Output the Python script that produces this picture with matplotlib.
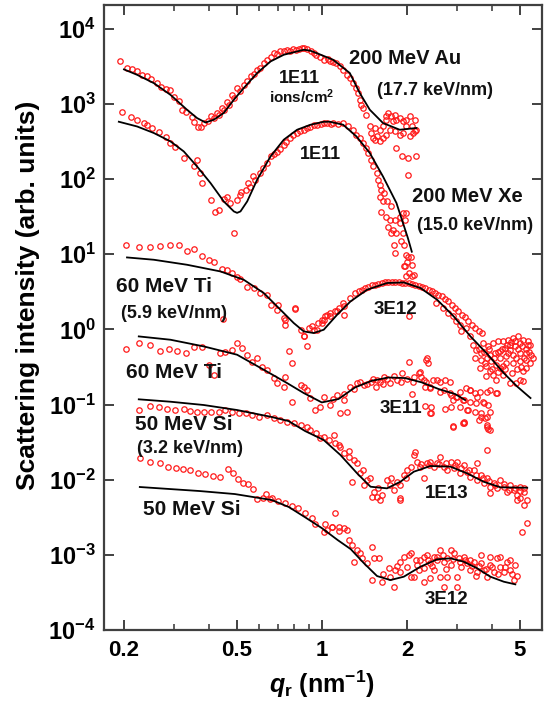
import numpy as np
import matplotlib
matplotlib.use("Agg")
import matplotlib.pyplot as plt
from matplotlib.ticker import FixedLocator, FixedFormatter, NullLocator, NullFormatter

plt.rcParams['font.family'] = ['Liberation Sans', 'DejaVu Sans']
plt.rcParams['font.weight'] = 'bold'
plt.rcParams['mathtext.fontset'] = 'custom'
plt.rcParams['mathtext.rm'] = 'Liberation Sans:bold'
plt.rcParams['mathtext.bf'] = 'Liberation Sans:bold'
plt.rcParams['mathtext.it'] = 'Liberation Sans:italic:bold'
plt.rcParams['mathtext.sf'] = 'Liberation Sans:bold'

# ---------------- data: measured points (q [nm^-1], intensity) ----------------
au_pts = [(0.194,3670),(0.205,3000),(0.213,2950),(0.222,2700),(0.231,2440),(0.241,2320),(0.250,2150),(0.261,1910),(0.270,1700),(0.281,1560),
(0.292,1540),(0.300,1250),(0.312,1100),(0.320,830),(0.331,785),(0.347,675),(0.353,577),(0.365,500),(0.373,495),(0.383,560),
(0.395,600),(0.405,680),(0.415,640),(0.425,760),(0.435,720),(0.443,887),(0.452,820),(0.461,1067),(0.470,980),(0.481,1322),
(0.490,1200),(0.501,1638),(0.515,1500),(0.530,1794),(0.545,2000),(0.561,2317),(0.575,2500),(0.589,2847),(0.605,3000),(0.624,3525),
(0.640,3800),(0.660,4273),(0.677,4790),(0.695,4600),(0.713,4990),(0.733,5100),(0.754,5150),(0.770,5000),(0.790,5370),(0.810,5200),
(0.830,5400),(0.850,5600),(0.864,5540),(0.885,5300),(0.913,4990),(0.935,4800),(0.957,4500),(0.985,4200),(1.02,3870),(1.05,3900),
(1.07,3700),(1.10,3600),(1.127,3497),(1.158,3150),(1.19,2848),(1.223,2443),(1.256,2208),(1.29,1894),(1.326,1626),(1.343,1395),
(1.362,1136),(1.38,975),(1.40,881),(1.438,718),(1.478,501),(1.498,410),(1.518,351),(1.539,477),(1.539,334),(1.561,369),
(1.602,453),(1.602,317),(1.646,501),(1.646,351),(1.69,615),(1.69,389),(1.69,681),(1.71,755),(1.74,453),(1.76,681),
(1.787,584),(1.81,718),(1.81,430),(1.836,615),(1.836,259),(1.886,648),(1.886,389),(1.913,200),(1.94,584),(1.94,410),
(1.99,615),(1.99,501),(2.015,190),(2.015,114),(2.045,681),(2.045,369),(2.08,501),(2.10,410),(2.13,615),(2.13,430),
(2.16,453),(2.161,200)]

xe_pts = [(0.197,792),(0.211,679),(0.2225,614),(0.235,555),(0.2414,527),(0.2514,476),(0.2655,429),(0.2804,368),(0.292,300),(0.304,271),
(0.3254,190),(0.353,147),(0.3726,120),(0.3625,180),(0.3776,88),(0.4044,52.8),(0.421,36.9),(0.4325,38.9),(0.4628,58.5),(0.4889,19.0),
(0.5022,52.8),(0.5161,61.6),(0.5376,71.8),(0.5598,79.4),(0.5831,97.5),(0.6072,120),(0.6407,163),(0.6641,200),(0.695,232),(0.734,285),
(0.775,350),(0.818,408),(0.864,452),(0.912,500),(0.962,527),(1.016,555),(0.45,55),(0.475,48),(0.52,68),(0.55,88),
(0.57,110),(0.62,140),(0.68,215),(0.71,255),(0.75,310),(0.79,380),(0.84,430),(0.89,480),(0.94,520),(0.99,545),
(1.04,560),(1.08,545),(1.10,560),(1.14,540),(1.19,555),(1.239,501),(1.29,453),(1.326,389),(1.362,351),(1.40,300),
(1.438,259),(1.457,222),(1.498,180),(1.518,147),(1.561,120),(1.58,98),(1.602,84),(1.624,72),(1.602,58.5),(1.646,50.4),
(1.624,37),(1.69,31.7),(1.74,28.7),(1.71,23.3),(1.787,21.2),(1.836,19),(1.886,26),(1.94,35.6),(1.886,31.7),(1.81,28.7),
(1.76,44),(1.665,65),(1.70,50.4),(1.967,28.7),(1.99,35.6),(1.815,10.3),(1.97,6.9),(2.08,5.1),(2.02,9.3),(1.93,19),
(1.75,19),(1.80,13.4),(1.90,14.8),(1.95,13.4),(1.98,9.8),(2.06,9.3),(2.0,8.0),(1.95,6.9),(2.08,7.2),(2.03,5.6),
(2.11,5.3),(1.99,5.1)]

ti_hi_pts = [(0.204,13.2),(0.2256,12.5),(0.248,12.5),(0.2692,12.7),(0.292,13.1),(0.3125,13.1),(0.334,10.9),(0.353,11.7),(0.3776,9.34),(0.399,8.44),
(0.415,7.84),(0.4443,6.33),(0.463,6.19),(0.482,5.6),(0.502,5.04),(0.516,4.66),(0.545,3.71),(0.575,3.55),(0.607,3.04),(0.641,2.89),
(0.659,2.13),(0.695,1.825),(0.734,1.415),(0.744,1.153),(0.807,1.865),(0.841,0.989),(0.864,0.806),(0.887,0.593),(0.924,1.094),(0.962,0.989),
(1.002,1.214),(0.448,1.373),
(0.703,2.13),(0.742,1.342),(0.805,1.92),(0.862,0.806),(0.898,1.042),(0.935,0.989),(0.973,1.214),(1.0,1.342),(1.027,1.486),(1.07,1.65),
(1.114,1.736),(1.146,1.92),(1.193,2.24),(1.259,2.61),(1.311,3.04),(1.384,3.37),(1.462,3.71),(1.543,3.93),(1.629,4.14),(1.72,4.21),
(1.816,4.21),(1.917,4.14),(2.025,4.14),(2.137,3.93),(2.256,3.71),(2.383,3.37),(2.514,3.04),(2.655,2.74),(2.803,2.353),(2.958,1.92),
(3.125,1.566),(3.299,1.275),(3.48,1.042),(3.676,0.894),
(1.35,3.2),(1.42,3.6),(1.5,3.85),(1.58,4.0),(1.67,4.3),(1.77,4.3),(1.87,4.25),(1.97,4.2),(2.08,4.0),(2.2,3.8),
(2.32,3.55),(2.45,3.2),(2.58,2.9),(2.72,2.5),(2.88,2.1),(3.04,1.75),(3.2,1.45),(3.39,1.15),(3.58,0.95),
(1.073,1.486),(1.133,1.736),(1.196,1.566),(1.016,1.342),(1.044,1.566),(1.196,2.05),(2.03,1.486),
(2.543,2.24),(2.684,1.92),(2.795,1.65),(2.911,1.486),(2.992,1.275),(3.073,1.153),(3.116,0.939),(3.245,1.042),(3.334,0.806),(3.424,0.624),
(3.52,0.536),(3.667,0.484),(3.472,0.415),(3.667,0.394),(3.819,0.321),(3.923,0.276),(4.03,0.249),(4.143,0.214),(3.819,0.237),(4.256,0.306),
(4.371,0.249),(4.616,0.193),(4.875,0.193),(5.007,0.212),(5.144,0.203),
(3.715,0.658),(3.869,0.593),(4.03,0.658),(4.198,0.691),(4.371,0.691),(4.553,0.728),(4.742,0.767),(4.938,0.806),(5.144,0.728),(5.433,0.624),
(5.007,0.658),(4.808,0.593),(4.616,0.536),(4.432,0.564),(4.256,0.508),(4.087,0.484),(3.923,0.46),(4.256,0.415),(4.494,0.436),(4.742,0.46),
(5.007,0.484),(5.288,0.484),(5.58,0.415),(5.288,0.394),(5.007,0.375),(4.742,0.357),(4.494,0.357),(5.288,0.306),(5.144,0.276),(4.143,0.338),
(3.977,0.375),(3.767,0.357),(3.616,0.306),(5.358,0.624),(4.616,0.624),(4.875,0.415),(4.371,0.321),
(3.6,0.55),(3.75,0.5),(3.9,0.55),(4.05,0.42),(4.2,0.5),(4.35,0.55),(4.5,0.62),(4.65,0.68),(4.8,0.7),(4.95,0.55),
(5.1,0.6),(5.25,0.55),(5.4,0.5),(5.5,0.45),(5.45,0.36),(5.2,0.42),(4.9,0.3),(4.7,0.26),(4.45,0.3),(4.2,0.27),
(4.0,0.3),(3.85,0.42),(5.05,0.32),(5.35,0.7),(4.55,0.49)]

ti_lo_pts = [(0.204,0.547),(0.2256,0.652),(0.248,0.619),(0.269,0.520),(0.288,0.543),(0.308,0.520),(0.330,0.489),(0.353,0.577),(0.378,0.588),(0.399,0.335),
(0.415,0.247),(0.4386,0.480),(0.4567,0.504),(0.482,0.531),(0.502,0.652),(0.523,0.56),(0.545,0.456),(0.567,0.371),(0.591,0.412),(0.615,0.318),
(0.641,0.288),(0.677,0.223),(0.695,0.191),(0.734,0.1725),(0.744,0.234),(0.765,0.520),(0.785,0.353),(0.785,0.109),(0.841,0.182),(0.864,0.1725),
(0.887,0.156),(0.912,0.121),(0.950,0.0845),(0.9895,0.0935),(1.016,0.127),(1.073,0.0985),(1.133,0.134),(1.196,0.1148),(1.228,0.0802),(1.164,0.0764),
(1.263,0.1725),(1.333,0.191),(1.407,0.182),(1.487,0.201),(1.568,0.212),(1.656,0.234),(1.748,0.191),(1.846,0.212),(1.922,0.260),(2.03,0.371),
(2.115,0.234),(2.2,0.260),(2.293,0.212),(2.355,0.412),(2.324,0.1725),(2.42,0.1725),(2.556,0.212),(2.70,0.156),(2.85,0.134),(3.0,0.127),
(3.175,0.1148),(3.353,0.156),(3.54,0.127),(3.73,0.1038),(3.94,0.0802),(4.16,0.142),(3.26,0.0845),(3.64,0.0688),(3.175,0.059),(3.835,0.0507),
(3.88,0.0474),(3.78,0.0672),(2.92,0.0521),(3.17,0.0575),(2.318,0.0956),(2.41,0.078),(2.08,0.136),(2.342,0.391),(2.372,0.353),(2.218,0.273),
(2.342,0.201),(2.474,0.212),(2.61,0.201),(2.72,0.212),(2.83,0.201),(2.41,0.1665),(2.61,0.149),(2.83,0.142),(2.99,0.127),(3.07,0.149),
(3.245,0.1665),(3.334,0.156),(3.47,0.142),(3.616,0.149),(3.82,0.149),(3.923,0.156),(4.143,0.142),(3.16,0.1148),(3.334,0.109),(3.52,0.1038),
(3.715,0.109),(3.869,0.0985),(3.073,0.0935),(3.29,0.0845),(3.47,0.0802),(3.667,0.0764),(3.82,0.0688),(3.58,0.0622),(3.82,0.0534),(3.923,0.0458),
(2.44,0.0935),(2.44,0.0764),(2.72,0.087),(2.91,0.0507),(3.16,0.0565),(2.91,0.1148),(2.87,0.0935),
(1.30,0.16),(1.36,0.2),(1.45,0.19),(1.52,0.22),(1.6,0.2),(1.7,0.22),(1.8,0.24),(1.9,0.2),(2.0,0.22),(2.1,0.2),
(2.25,0.23),(1.55,0.17),(1.65,0.19),(1.2,0.14),(1.1,0.12)]

si_hi_pts = [(0.2256,0.0845),(0.248,0.0955),(0.2655,0.0935),(0.284,0.0871),(0.304,0.0845),(0.325,0.0871),(0.3436,0.0819),(0.3625,0.0802),(0.383,0.0802),(0.4044,0.0802),
(0.4325,0.0802),(0.4567,0.0845),(0.482,0.0802),(0.509,0.0764),(0.5376,0.0764),(0.567,0.0725),(0.599,0.0688),(0.641,0.0725),(0.677,0.0655),(0.7145,0.0622),
(0.754,0.059),(0.796,0.0565),(0.841,0.0534),(0.887,0.0507),(0.912,0.0458),(0.952,0.042),(0.985,0.0359),
(1.016,0.0373),(1.059,0.0337),(1.102,0.0393),(1.118,0.0305),(1.164,0.0274),(1.196,0.0224),(1.246,0.0202),(1.297,0.01826),(1.333,0.0165),(1.28,0.0094),
(1.37,0.01215),(1.407,0.0085),(1.445,0.0099),(1.526,0.00692),(1.567,0.00593),(1.612,0.00536),(1.634,0.00625),(1.505,0.00593),(1.70,0.0099),(1.748,0.0085),
(1.796,0.00728),(1.897,0.00565),(1.897,0.0085),(1.949,0.01153),(2.0,0.01344),(2.06,0.0149),(2.114,0.0213),(2.17,0.01734),(2.23,0.0149),(2.29,0.0104),
(2.355,0.0165),(2.42,0.01734),(2.485,0.0149),(2.556,0.0165),(2.62,0.0202),(2.70,0.0149),(2.77,0.01344),(2.85,0.01734),(2.927,0.01416),(3.0,0.01734),
(3.09,0.01215),(3.175,0.01567),(3.26,0.01277),(3.353,0.0109),(3.44,0.01344),(3.54,0.0165),(3.54,0.0099),(3.64,0.01153),(3.73,0.0091),(3.835,0.0104),
(3.94,0.00806),(3.94,0.0066),(4.05,0.0091),(4.16,0.00767),(4.28,0.0099),(4.397,0.00806),(4.52,0.00692),(4.64,0.0085),(4.77,0.00728),(4.90,0.00625),
(5.035,0.00806),(5.17,0.00692),(5.32,0.00536),(5.17,0.0046),(5.035,0.00565),(4.90,0.00536),(3.835,0.0248),(5.32,0.00263),(5.11,0.00203),(1.897,0.00536),
(2.137,0.0237),
(2.25,0.016),(2.4,0.0155),(2.6,0.016),(2.75,0.0165),(2.95,0.0155),(3.1,0.0145),(3.3,0.0135),(3.5,0.0115),(3.7,0.0105),(3.9,0.0095),
(4.1,0.0085),(4.4,0.0088),(4.6,0.0072),(4.8,0.0078),(5.0,0.0070),(5.2,0.0078),(1.15,0.029),(1.25,0.024),(1.4,0.0135),(1.48,0.0105),
(1.58,0.0078),(1.75,0.0105),(1.85,0.0092),(1.98,0.0105)]

si_lo_pts = [(0.2275,0.0192),(0.248,0.01734),(0.2677,0.0168),(0.2862,0.01474),(0.3065,0.01416),(0.3235,0.01374),(0.3416,0.0136),(0.3655,0.01238),(0.3857,0.012),(0.4129,0.01119),
(0.4362,0.01086),(0.4666,0.01374),(0.4859,0.01238),(0.506,0.0101),(0.527,0.00911),(0.549,0.0087),(0.572,0.00744),(0.588,0.00548),(0.6205,0.00574),(0.6375,0.00637),
(0.655,0.00548),
(0.666,0.00574),(0.703,0.0052),(0.742,0.00494),(0.783,0.00447),(0.827,0.00424),(0.873,0.00363),(0.922,0.00312),(0.947,0.00255),(1.027,0.00259),(1.085,0.00236),(1.146,0.00209),
(1.016,0.00203),(1.044,0.00214),(1.087,0.00237),(1.148,0.00237),(1.196,0.00225),(1.228,0.00214),(1.118,0.00357),(1.246,0.00157),(1.28,0.00135),(1.297,0.00081),
(1.333,0.00116),(1.37,0.001047),(1.388,0.000899),(1.445,0.00077),(1.505,0.00128),(1.526,0.000899),(1.587,0.000899),(1.505,0.000462),(1.634,0.000439),(1.748,0.000512),
(1.796,0.000377),(1.725,0.000662),(1.82,0.000628),(1.897,0.00081),(1.949,0.000944),(2.0,0.000695),(2.06,0.001047),(2.114,0.000512),(2.17,0.000731),(2.232,0.000853),
(2.29,0.000662),(2.355,0.000994),(2.42,0.00077),(2.485,0.000628),(2.556,0.000853),(2.62,0.00116),(2.70,0.00081),(2.77,0.000512),(2.85,0.000731),(2.927,0.001047),
(3.0,0.000512),(3.09,0.00081),(3.175,0.000944),(3.26,0.00077),(3.353,0.000628),(3.44,0.00081),(3.54,0.00059),(3.64,0.00077),(3.73,0.000628),(3.835,0.000512),
(3.94,0.000731),(4.05,0.00059),(4.16,0.000899),(4.28,0.000695),(4.397,0.00059),(4.52,0.00081),(4.64,0.000628),(4.77,0.000462),(4.83,0.000731),(2.62,0.000512),
(2.70,0.000377),(2.42,0.000487),(2.29,0.000439),(3.0,0.000377),(2.06,0.000512),(1.897,0.00059),(2.03,0.000994),(2.29,0.000944),(2.556,0.000944),(2.77,0.000899),
(3.353,0.000853),(3.94,0.000944),(4.64,0.000853),(4.28,0.000944),(2.85,0.00116),(3.64,0.000994),
(2.15,0.00085),(2.38,0.00085),(2.5,0.00095),(2.68,0.001),(2.9,0.00088),(3.05,0.00092),(3.2,0.00085),(3.4,0.0007),(3.6,0.00072),(3.8,0.00065),
(4.0,0.00068),(4.2,0.00055),(4.45,0.00068),(4.7,0.00056),(4.9,0.00052),(2.2,0.00062),(2.45,0.0007),(2.75,0.00065),(3.1,0.00068),(3.5,0.00052),
(1.65,0.00055),(1.85,0.0007)]

# ---------------- data: fitted curves ----------------
au_fit_q = [0.200,0.2225,0.255,0.292,0.334,0.3625,0.388,0.415,0.450,0.489,0.530,0.591,0.659,0.734,0.818,0.864,0.912,0.958,1.096,1.256,1.362,1.478,1.646,1.886,2.161]
au_fit_I = [2880,2440,1890,1320,836,648,566,615,755,1136,1626,2574,3672,4508,4988,5255,5100,4750,3869,2574,1395,836,556,453,478]

xe_fit_q = [0.1918,0.2225,0.255,0.292,0.3254,0.3625,0.4044,0.4504,0.489,0.502,0.516,0.545,0.591,0.659,0.734,0.818,0.912,1.016,1.067,1.19,1.326,1.478,1.646,1.836,2.015,2.08]
xe_fit_I = [579,501,410,317,233,147,88.5,50.4,37.1,35.5,37.1,50.4,98,200,334,453,528,579,579,528,369,222,108,48,16.4,10.8]

ti_hi_fit_q = [0.205,0.255,0.334,0.4386,0.530,0.624,0.7145,0.796,0.864,0.937,1.016,1.133,1.263,1.446,1.701,1.949,2.232,2.556,2.927,3.353,3.838,4.397,4.90,5.464]
ti_hi_fit_I = [9.06,8.44,7.24,5.90,4.57,3.04,1.825,1.214,0.939,0.894,0.989,1.566,2.353,3.37,4.14,4.21,3.55,2.48,1.486,0.806,0.474,0.262,0.174,0.122]

ti_lo_fit_q = [0.2256,0.292,0.383,0.502,0.624,0.754,0.864,1.0,1.146,1.311,1.502,1.72,1.969,2.256,2.585,2.958,3.209]
ti_lo_fit_I = [0.806,0.728,0.593,0.46,0.290,0.193,0.142,0.1067,0.1184,0.169,0.207,0.229,0.225,0.197,0.161,0.138,0.1148]

si_hi_fit_q = [0.2256,0.292,0.383,0.502,0.659,0.763,0.873,1.016,1.164,1.333,1.487,1.70,1.897,2.114,2.42,2.85,3.26,3.73,4.28,5.32]
si_hi_fit_I = [0.1173,0.109,0.0985,0.0845,0.0688,0.0603,0.0444,0.0337,0.0213,0.01215,0.00806,0.00767,0.0094,0.01277,0.0152,0.0149,0.01215,0.0094,0.00791,0.00782]

si_lo_fit_q = [0.2275,0.2904,0.3706,0.4928,0.666,0.7646,0.871,1.0,1.139,1.266,1.407,1.568,1.748,1.949,2.232,2.556,2.85,3.175,3.54,3.94,4.397,4.83]
si_lo_fit_I = [0.00799,0.00751,0.00706,0.00644,0.00536,0.00433,0.00318,0.00227,0.00157,0.00119,0.000778,0.000522,0.000462,0.000512,0.000695,0.000872,0.000899,0.00081,0.000662,0.000512,0.000439,0.000405]

# ---------------- ticks / labels ----------------
x_major = [0.2, 0.5, 1, 2, 5]
x_major_labels = ['0.2', '0.5', '1', '2', '5']
x_minor = [0.3, 0.4, 0.6, 0.7, 0.8, 0.9, 3, 4]
y_major = [1e-4, 1e-3, 1e-2, 1e-1, 1e0, 1e1, 1e2, 1e3, 1e4]
y_major_labels = [r'$10^{-4}$', r'$10^{-3}$', r'$10^{-2}$', r'$10^{-1}$', r'$10^{0}$',
                  r'$10^{1}$', r'$10^{2}$', r'$10^{3}$', r'$10^{4}$']

# annotations: (text, q, I, ha, fontsize)
annotations = [
    ('200 MeV Au', 1.246, 4074, 'left', 14.5),
    ('(17.7 keV/nm)', 1.565, 1529, 'left', 13),
    ('1E11', 0.836, 2208, 'center', 13),
    (r'ions/cm$^{2}$', 0.85, 1250, 'center', 11),
    ('1E11', 0.99, 215, 'center', 13),
    ('200 MeV Xe', 2.08, 59.4, 'left', 14.5),
    ('(15.0 keV/nm)', 2.166, 24.4, 'left', 13),
    ('60 MeV Ti', 0.187, 3.77, 'left', 15),
    ('(5.9 keV/nm)', 0.196, 1.65, 'left', 13),
    ('3E12', 1.826, 1.865, 'center', 13.5),
    ('60 MeV Ti', 0.204, 0.2706, 'left', 15),
    ('3E11', 1.909, 0.0898, 'center', 13.5),
    ('50 MeV Si', 0.218, 0.055, 'left', 15),
    ('(3.2 keV/nm)', 0.222, 0.0261, 'left', 13),
    ('1E13', 2.753, 0.00665, 'center', 13.5),
    ('50 MeV Si', 0.233, 0.00398, 'left', 15),
    ('3E12', 2.753, 0.000251, 'center', 13.5),
]

# ---------------- figure ----------------
fig = plt.figure(figsize=(5.44, 7.02), dpi=100)
ax = fig.add_axes([104/544, 72/702, 438/544, 625/702])
ax.set_xscale('log')
ax.set_yscale('log')

red = '#ff1a1a'
for pts in [au_pts, xe_pts, ti_hi_pts, ti_lo_pts, si_hi_pts, si_lo_pts]:
    q, I = np.array(pts).T
    ax.plot(q, I, linestyle='none', marker='o', markersize=3.9,
            markerfacecolor='none', markeredgecolor=red, markeredgewidth=0.9)

for fq, fI in [(au_fit_q, au_fit_I), (xe_fit_q, xe_fit_I), (ti_hi_fit_q, ti_hi_fit_I),
               (ti_lo_fit_q, ti_lo_fit_I), (si_hi_fit_q, si_hi_fit_I), (si_lo_fit_q, si_lo_fit_I)]:
    ax.plot(fq, fI, color='black', linewidth=1.3)

ax.set_xlim(0.17, 6.0)
ax.set_ylim(1e-4, 2.07e4)

ax.xaxis.set_major_locator(FixedLocator(x_major))
ax.xaxis.set_major_formatter(FixedFormatter(x_major_labels))
ax.xaxis.set_minor_locator(FixedLocator(x_minor))
ax.xaxis.set_minor_formatter(NullFormatter())
ax.yaxis.set_major_locator(FixedLocator(y_major))
ax.yaxis.set_major_formatter(FixedFormatter(y_major_labels))
ax.yaxis.set_minor_locator(NullLocator())

ax.tick_params(which='both', direction='in', top=True, right=True, colors='#333333')
ax.tick_params(which='major', length=7, width=1.3)
ax.tick_params(which='minor', length=4, width=1.1)
ax.tick_params(axis='x', which='major', labelsize=16, pad=7, labelcolor='black')
ax.tick_params(axis='y', which='major', labelsize=17, pad=6, labelcolor='black')
for s in ax.spines.values():
    s.set_linewidth(1.6)
    s.set_color('#404040')

for txt, q, I, ha, fs in annotations:
    ax.text(q, I, txt, ha=ha, va='center', fontsize=fs, fontweight='bold', color='#111111')

fig.text(28/544, 1 - 295/702, 'Scattering intensity (arb. units)', rotation=90,
         ha='center', va='center', fontsize=19, fontweight='bold')
fig.text(322/544, 1 - 684/702, r'$q_{\mathrm{r}}$ (nm$^{-1}$)',
         ha='center', va='center', fontsize=18, fontweight='bold')

fig.savefig('out.png', dpi=100)
